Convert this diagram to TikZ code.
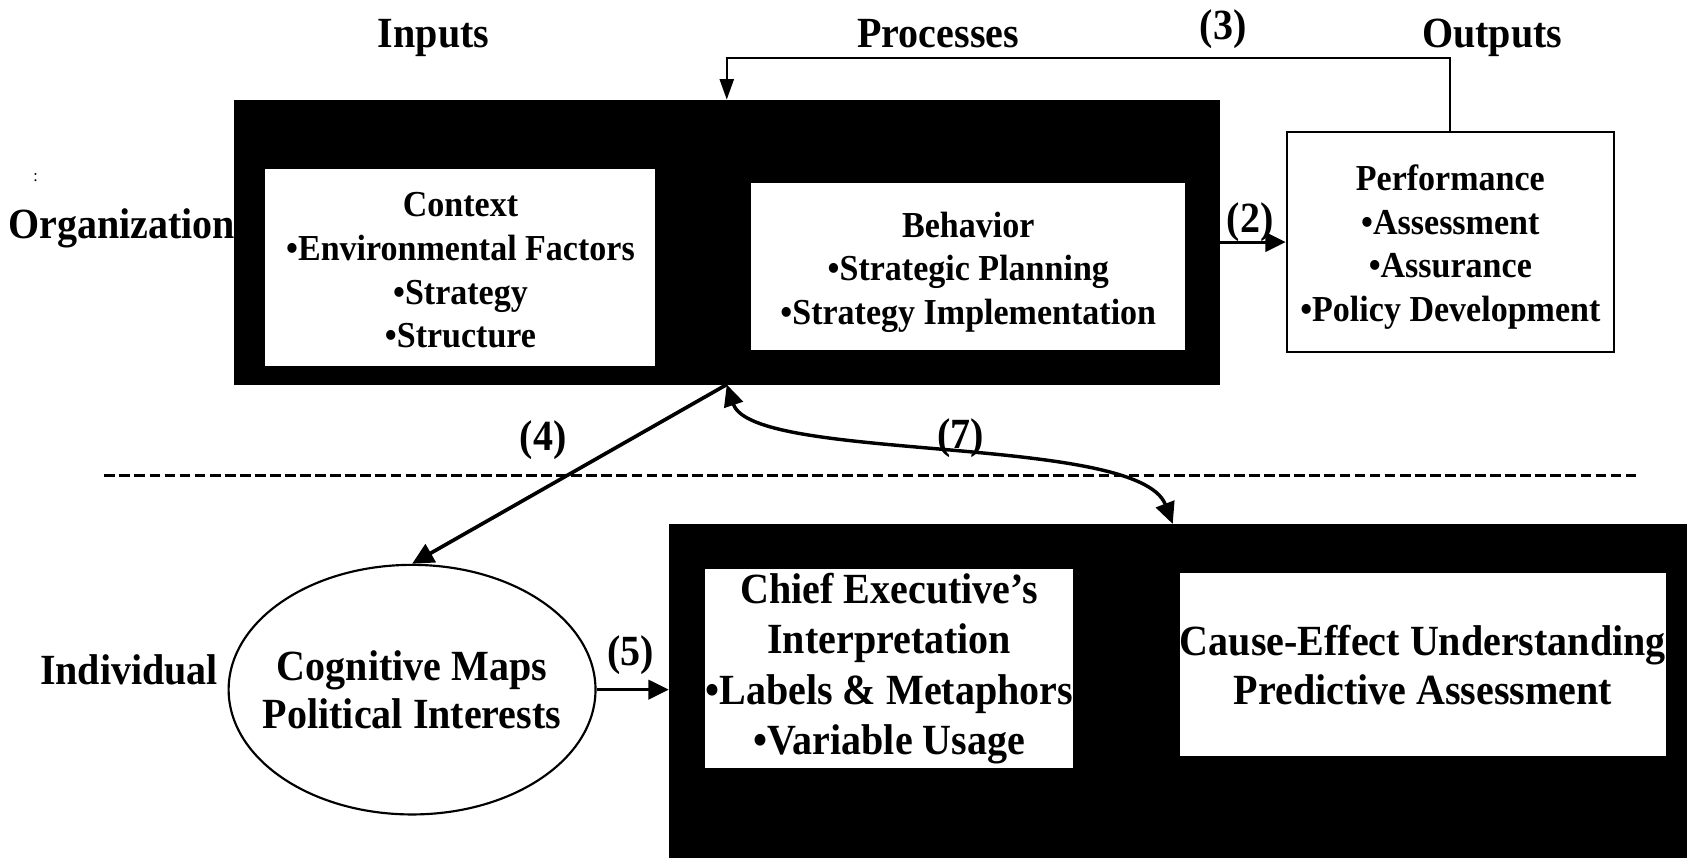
\documentclass[tikz,border=0pt]{standalone}
\usepackage{fontspec}
\setmainfont{Liberation Serif}[FakeStretch=0.93]
\usetikzlibrary{arrows.meta,shapes.geometric}
\begin{document}
\begin{tikzpicture}[x=0.5pt,y=-0.5pt,
  big/.style={font=\fontsize{20}{23}\selectfont\bfseries},
  blk/.style={fill=black, draw=black, inner sep=0pt},
  wbox/.style={fill=white, inner sep=0pt, align=center, font=\fontsize{17}{20.3}\selectfont\bfseries},
  wboxb/.style={fill=white, inner sep=0pt, align=center, font=\fontsize{20}{23.5}\selectfont\bfseries},
  txt/.style={inner sep=0pt, align=center, font=\fontsize{17}{20.3}\selectfont\bfseries},
  lbl/.style={big, anchor=base, inner sep=0pt},
  arr/.style={line width=1.4pt, -{Triangle[length=9.5pt,width=9pt]}},
  arrfour/.style={line width=1.7pt, -{Triangle[length=10pt,width=9.5pt]}},
  arrtwo/.style={line width=1.6pt, {Triangle[length=10pt,width=9pt]}-{Triangle[length=10pt,width=9pt]}},
  fbline/.style={line width=1pt, -{Triangle[length=9.5pt,width=6.5pt]}},
  divider/.style={line width=1pt, dash pattern=on 5pt off 2pt}
]
\useasboundingbox (0,0) rectangle (1568,797);

% divider
\coordinate (dl) at (97,442);
\coordinate (dr) at (1522,442);
\draw[divider] (dl) -- (dr);

% headers
\node[lbl] (inputs) at (403,44) {Inputs};
\node[lbl] (processes) at (872,44) {Processes};
\node[lbl] (outputs) at (1387,44) {Outputs};
\node[lbl] (l3) at (1137,37) {(3)};
\node[lbl] (org) at (113,222) {Organization};
\node[lbl] (indiv) at (120,636) {Individual};
\node[font=\fontsize{8}{9}\selectfont, inner sep=0pt] (dots) at (33,165) {:};

% top black box
\node[blk, minimum width=457.5pt, minimum height=132pt] (topbox) at (675.5,225) {};
\node[wbox, minimum width=181.5pt, minimum height=91.5pt] (context) at (427.5,248.5) {};
\node[txt] (contexttext) at (428,251.5)
  {Context\\•Environmental Factors\\•Strategy\\•Structure};
\node[wbox, minimum width=201.5pt, minimum height=77.5pt] (behavior) at (899.5,247.5) {};
\node[txt] (behaviortext) at (900,253)
  {Behavior\\•Strategic Planning\\•Strategy Implementation};

% performance
\node[wbox, draw=black, line width=1pt, minimum width=152pt, minimum height=102pt] (perf) at (1348,225) {};
\node[txt] (perftext) at (1348,229.5)
  {Performance\\•Assessment\\•Assurance\\•Policy Development};

% ellipse
\node[ellipse, draw=black, line width=1pt, fill=white, minimum width=170.5pt, minimum height=116pt,
  inner sep=0pt] (cog) at (383,641) {};
\node[inner sep=0pt, align=center, font=\fontsize{20}{22.5}\selectfont\bfseries] (cogtext) at (cog.center)
  {Cognitive Maps\\Political Interests};

% bottom black box
\node[blk, minimum width=473pt, minimum height=155pt] (botbox) at (1095,642) {};
\node[wboxb, minimum width=166.5pt, minimum height=92.5pt] (chief) at (826.5,621.5)
  {Chief Executive’s\\Interpretation\\•Labels \& Metaphors\\•Variable Usage};
\node[wboxb, minimum width=225.5pt, minimum height=85pt, font=\fontsize{20}{22.5}\selectfont\bfseries] (cause) at (1322.5,618)
  {Cause-Effect Understanding\\Predictive Assessment};

% connectors
\draw[fbline] (perf.north) -- ++(0,-68) -| (topbox.north);
\draw[arr] (topbox.east) -- (perf.west);
\draw[arrfour] (topbox.south) -- (cog.north);
\coordinate (c7) at (1090,487);
\draw[arrtwo] (topbox.south) .. controls (700,430) and (1058,403) .. (c7);
\draw[arr] (cog.east) -- (cog.east -| botbox.west);

% connector labels
\node[lbl] (l2) at (1162,216) {(2)};
\node[lbl] (l4) at (505,419) {(4)};
\node[lbl] (l7) at (893,417) {(7)};
\node[lbl] (l5) at (586,619) {(5)};
\end{tikzpicture}
\end{document}
